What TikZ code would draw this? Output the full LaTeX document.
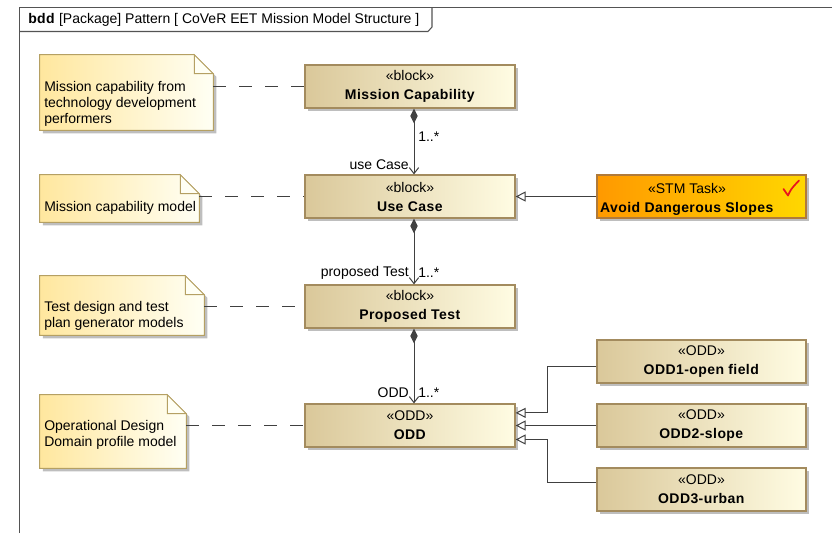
\documentclass[tikz,border=0pt]{standalone}
\usepackage{fontspec}
\setmainfont[BoldFeatures={LetterSpace=3}]{Liberation Sans}
\usetikzlibrary{arrows.meta,shadows}
\definecolor{blkL}{HTML}{DAC89A}
\definecolor{blkR}{HTML}{FFFCE3}
\definecolor{blkB}{HTML}{A38B5E}
\definecolor{noteL}{HTML}{FFE79E}
\definecolor{noteR}{HTML}{FFFFF4}
\definecolor{noteB}{HTML}{B5A063}
\definecolor{stmL}{HTML}{FF9900}
\definecolor{stmR}{HTML}{FFD700}
\definecolor{stmB}{HTML}{B07A3A}
\definecolor{lineC}{HTML}{404040}
\definecolor{shad}{HTML}{BEBEBE}
\definecolor{chk}{HTML}{E8141E}
\def\fold{14.25pt}
\begin{document}
\begin{tikzpicture}[x=0.75pt,y=-0.75pt,
  dropsh/.style={drop shadow={shadow xshift=2.4pt,shadow yshift=-2.4pt,fill=shad,opacity=1}},
  blockbox/.style={draw=blkB, line width=0.9pt, left color=blkL, right color=blkR,
    minimum width=157.5pt, minimum height=32.25pt, inner sep=0pt, dropsh,
    align=center, font=\fontsize{10.5}{14.25}\selectfont},
  blocktext/.style={inner sep=0pt, align=center, font=\fontsize{10.5}{14.25}\selectfont},
  stmbox/.style={draw=stmB, line width=0.9pt, left color=stmL, right color=stmR,
    minimum width=156.75pt, minimum height=32.25pt, inner sep=0pt, dropsh},
  notearea/.style={inner sep=0pt},
  noteshape/.style={draw=noteB, line width=0.75pt, left color=noteL, right color=noteR, dropsh},
  notefold/.style={draw=noteB, line width=0.75pt, fill=noteR},
  notetxt/.style={anchor=west, align=left, inner sep=0pt, font=\fontsize{10.5}{12}\selectfont},
  conn/.style={draw=lineC, line width=0.75pt},
  comp/.style={conn, {Diamond[length=11pt,width=5.5pt]}-{Straight Barb[length=4.5pt,width=7pt]}},
  gen/.style={conn, -{Triangle[open,length=7.5pt,width=7.5pt,fill=white]}},
  assoclbl/.style={inner sep=0pt, font=\fontsize{10.5}{12}\selectfont},
  dashconn/.style={conn, dash pattern=on 9.75pt off 9.75pt},
  framec/.style={draw=lineC!90, line width=1pt},
]
\useasboundingbox (0,0) rectangle (832,533);

% frame
\draw[framec] (19.5,533) -- (19.5,7.5) -- (832,7.5);
\draw[framec, line width=0.8pt] (19.5,31.5) -- (428,31.5) -- (432,27) -- (432,7.5);
\node[anchor=west, inner sep=0pt, font=\fontsize{10.5}{12}\selectfont] (hdr) at (28,20)
  {\textbf{bdd} [Package] Pattern [ CoVeR EET Mission Model Structure ]};

% notes
\newcommand\drawnote[1]{%
  \path[noteshape] (#1.north west) -- ([xshift=-\fold]#1.north east) -- ([yshift=-\fold]#1.north east)
    -- (#1.south east) -- (#1.south west) -- cycle;
  \path[notefold] ([xshift=-\fold]#1.north east) -- ++(0pt,-\fold) -- ([yshift=-\fold]#1.north east) -- cycle;}
\node[notearea, minimum width=129.75pt, minimum height=56.25pt] (n1) at (126.5,92.5) {};
\node[notearea, minimum width=119.25pt, minimum height=35.25pt] (n2) at (119.5,198.5) {};
\node[notearea, minimum width=123pt, minimum height=44.25pt] (n3) at (122,305.5) {};
\node[notearea, minimum width=109.5pt, minimum height=54.75pt] (n4) at (113,431.5) {};
\drawnote{n1}\drawnote{n2}\drawnote{n3}\drawnote{n4}
\node[notetxt] (t1) at (44,104) {Mission capability from\\technology development\\performers};
\node[notetxt] (t2) at (44,208) {Mission capability model};
\node[notetxt] (t3) at (44,316) {Test design and test\\plan generator models};
\node[notetxt] (t4) at (44,435) {Operational Design\\Domain profile model};

% blocks
\node[blockbox] (mc) at (410,86.5) {«block»\\\textbf{Mission Capability}};
\node[blockbox] (uc) at (410,196.5) {«block»\\\textbf{Use Case}};
\node[blockbox] (pt) at (410,306.5) {«block»\\\textbf{Proposed Test}};
\node[blockbox] (odd) at (410,425.5) {«ODD»\\\textbf{ODD}};
\node[stmbox] (stm) at (701.5,196.5) {};
\node[blocktext] (stmt) at (687,199) {«STM Task»\\\textbf{Avoid Dangerous Slopes}};
\draw[chk, line width=1.3pt, line cap=round, line join=round]
  (783.5,189) -- (788,195.5) .. controls (791,189) .. (799,180.5);
\node[blockbox, minimum width=156.75pt] (o1) at (701.5,361.5) {«ODD»\\\textbf{ODD1-open field}};
\node[blockbox, minimum width=156.75pt] (o2) at (701.5,425.5) {«ODD»\\\textbf{ODD2-slope}};
\node[blockbox, minimum width=156.75pt] (o3) at (701.5,489.5) {«ODD»\\\textbf{ODD3-urban}};

% dashed anchors
\draw[dashconn] (n1.east |- mc.west) -- (mc.west);
\draw[dashconn] (n2.east |- uc.west) -- (uc.west);
\draw[dashconn] (n3.east |- pt.west) -- (pt.west);
\draw[dashconn] (n4.east |- odd.west) -- (odd.west);

% compositions
\draw[comp] ([xshift=3pt]mc.south) -- ([xshift=3pt]uc.north);
\draw[comp] ([xshift=3pt]uc.south) -- ([xshift=3pt]pt.north);
\draw[comp] ([xshift=3pt]pt.south) -- ([xshift=3pt]odd.north);
\node[assoclbl, anchor=west] (m1) at (418,137) {1..*};
\node[assoclbl, anchor=east] (r1) at (409,165) {use Case};
\node[assoclbl, anchor=east] (r2) at (409,273) {proposed Test};
\node[assoclbl, anchor=west] (m2) at (418,273) {1..*};
\node[assoclbl, anchor=east] (r3) at (409,393) {ODD};
\node[assoclbl, anchor=west] (m3) at (418,393) {1..*};

% generalizations
\draw[gen] (stm.west) -- (uc.east);
\draw[gen] ([yshift=-4pt]o1.west) -- ++(-36.75pt,0pt) |- ([yshift=9.5pt]odd.east);
\draw[gen] (o2.west) -- (odd.east);
\draw[gen] ([yshift=4.9pt]o3.west) -- ++(-36.75pt,0pt) |- ([yshift=-10.5pt]odd.east);
\end{tikzpicture}
\end{document}
